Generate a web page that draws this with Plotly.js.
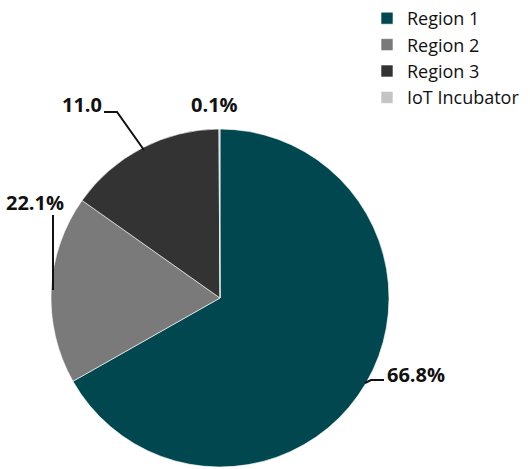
<!DOCTYPE html>
<html>
<head>
<meta charset="utf-8">
<script src="https://cdn.plot.ly/plotly-3.0.1.min.js"></script>
<style>html,body{margin:0;padding:0;background:#fff;}#chart{width:530px;height:469px;}</style>
</head>
<body>
<div id="chart"></div>
<script>
// Data
var categories = ["Region 1", "Region 2", "Region 3", "IoT Incubator"];
var sliceValues = [66.8, 18.0, 15.1, 0.1];          // slice sizes as drawn
var labelTexts = ["66.8%", "22.1%", "11.0", "0.1%"]; // labels as printed
var colors = ["#00474f", "#7a7a7a", "#333333", "#c4c4c4"];

var W = 530, H = 469;
function px(x) { return x / W; }
function py(y) { return 1 - y / H; }

// pie geometry (layout only): center (220,298), radius 169
var cx = 220, cy = 298, r = 169;
var FONT = "'Open Sans', Lato, sans-serif";

var trace = {
  type: "pie",
  labels: categories,
  values: sliceValues,
  sort: false,
  direction: "clockwise",
  rotation: 0,
  textinfo: "none",
  hoverinfo: "label+percent",
  marker: { colors: colors, line: { color: "#ffffff", width: 0.6 } },
  domain: { x: [px(cx - r), px(cx + r)], y: [py(cy + r), py(cy - r)] },
  showlegend: true
};

// label positions (layout)
var labelPos = [[416, 374], [35, 203], [82, 105], [214, 105]];
var annotations = labelTexts.map(function (t, i) {
  return {
    text: "<b>" + t + "</b>",
    x: px(labelPos[i][0]), y: py(labelPos[i][1]),
    xref: "paper", yref: "paper",
    xanchor: "center", yanchor: "middle",
    showarrow: false,
    font: { family: FONT, size: 20, color: "#111111" }
  };
});

function path(pts) {
  return pts.map(function (p, i) { return (i ? "L" : "M") + px(p[0]) + "," + py(p[1]); }).join(" ");
}
var leaders = [
  [[365, 383], [371, 380], [384, 380]],
  [[53, 215], [53, 290]],
  [[104, 112], [117, 112], [144, 150]]
];
var shapes = leaders.map(function (pts) {
  return { type: "path", xref: "paper", yref: "paper", path: path(pts),
           line: { color: "#111111", width: 2 } };
});

var layout = {
  width: W, height: H,
  margin: { l: 0, r: 0, t: 0, b: 0 },
  paper_bgcolor: "#ffffff",
  font: { family: FONT, color: "#111111" },
  showlegend: true,
  legend: {
    x: px(367), y: py(0), xanchor: "left", yanchor: "top",
    font: { family: FONT, size: 18, color: "#111111" },
    itemwidth: 30, traceorder: "normal", bgcolor: "rgba(0,0,0,0)"
  },
  annotations: annotations,
  shapes: shapes
};

Plotly.newPlot("chart", [trace], layout, { displayModeBar: false, staticPlot: true });
</script>
</body>
</html>
